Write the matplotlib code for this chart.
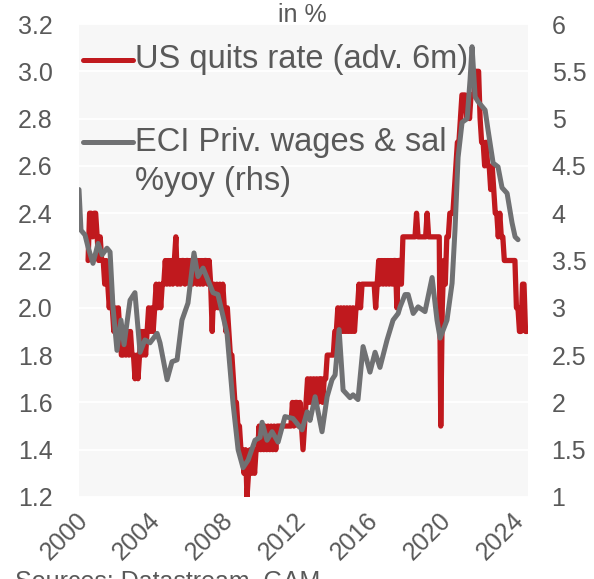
import numpy as np
import matplotlib
matplotlib.use("Agg")
import matplotlib.pyplot as plt
import matplotlib.transforms as mtransforms

plt.rcParams['font.family'] = ['Liberation Sans', 'DejaVu Sans']

# US quits rate (advanced 6m), monthly, first value = Jul 2000
quits_start = 2000 + 6 / 12
quits = [
    2.2, 2.4, 2.4, 2.3, 2.4, 2.4,                                # 2000 H2
    2.3, 2.2, 2.3, 2.2, 2.2, 2.1, 2.2, 2.1, 2.0, 2.1, 2.0, 1.9,  # 2001
    2.0, 1.9, 2.0, 1.9, 1.8, 1.8, 1.9, 1.8, 1.9, 1.8, 1.9, 1.8,  # 2002
    1.8, 1.7, 1.8, 1.7, 1.8, 1.9, 1.8, 1.9, 1.8, 1.9, 2.0, 1.9,  # 2003
    2.0, 1.9, 2.0, 2.1, 2.0, 2.1, 2.0, 2.1, 2.1, 2.2, 2.1, 2.2,  # 2004
    2.1, 2.2, 2.1, 2.2, 2.3, 2.1, 2.2, 2.1, 2.2, 2.2, 2.1, 2.2,  # 2005
    2.2, 2.1, 2.2, 2.1, 2.2, 2.2, 2.1, 2.2, 2.1, 2.2, 2.1, 2.2,  # 2006
    2.2, 2.1, 2.2, 2.1, 1.9, 2.1, 2.0, 2.1, 2.0, 2.1, 2.0, 2.1,  # 2007
    2.0, 1.9, 2.0, 1.9, 1.8, 1.8, 1.7, 1.6, 1.6, 1.5, 1.5, 1.4,  # 2008
    1.4, 1.3, 1.4, 1.2, 1.3, 1.4, 1.3, 1.4, 1.3, 1.4, 1.4, 1.5,  # 2009
    1.4, 1.5, 1.4, 1.5, 1.4, 1.5, 1.4, 1.5, 1.4, 1.5, 1.4, 1.5,  # 2010
    1.5, 1.5, 1.5, 1.5, 1.5, 1.5, 1.5, 1.5, 1.5, 1.6, 1.5, 1.6,  # 2011
    1.6, 1.5, 1.6, 1.5, 1.4, 1.5, 1.6, 1.7, 1.6, 1.7, 1.6, 1.7,  # 2012
    1.6, 1.7, 1.6, 1.7, 1.7, 1.6, 1.7, 1.7, 1.8, 1.8, 1.8, 1.8,  # 2013
    1.8, 1.9, 1.9, 2.0, 1.9, 2.0, 1.9, 2.0, 1.9, 2.0, 1.9, 2.0,  # 2014
    1.9, 2.0, 1.9, 2.0, 2.0, 2.1, 2.0, 2.1, 2.1, 2.1, 2.1, 2.1,  # 2015
    2.1, 2.1, 2.1, 2.1, 2.0, 2.1, 2.2, 2.1, 2.2, 2.1, 2.2, 2.1,  # 2016
    2.2, 2.1, 2.2, 2.1, 2.2, 2.2, 2.0, 2.2, 2.2, 2.1, 2.3, 2.3,  # 2017
    2.3, 2.3, 2.3, 2.3, 2.3, 2.3, 2.3, 2.4, 2.3, 2.3, 2.3, 2.3,  # 2018
    2.3, 2.3, 2.4, 2.3, 2.3, 2.3, 2.3, 2.3, 2.3, 2.3, 2.3, 1.5,  # 2019
    2.0, 2.2, 2.1, 2.3, 2.3, 2.4, 2.4, 2.4, 2.5, 2.6, 2.7, 2.7,  # 2020
    2.8, 2.9, 2.9, 2.9, 2.8, 2.9, 2.8, 2.9, 2.9, 2.9, 3.0, 3.0,  # 2021
    3.0, 2.8, 2.7, 2.7, 2.6, 2.7, 2.6, 2.6, 2.5, 2.6, 2.5, 2.4,  # 2022
    2.4, 2.3, 2.4, 2.3, 2.3, 2.2, 2.2, 2.2, 2.2, 2.2, 2.2, 2.2,  # 2023
    2.2, 2.0, 2.0, 1.9, 1.9, 2.1, 2.1, 1.9, 1.9,                 # 2024
]

# ECI private wages & salaries %yoy (rhs)
eci_t = [2000.00, 2000.11, 2000.33, 2000.50, 2000.77, 2001.05, 2001.27, 2001.54,
         2001.71, 2001.87, 2002.09, 2002.31, 2002.48, 2002.81, 2003.08, 2003.36,
         2003.63, 2003.91, 2004.30, 2004.46, 2004.85, 2005.12, 2005.40, 2005.67,
         2006.00, 2006.33, 2006.55, 2006.83, 2007.38, 2007.65, 2008.15, 2008.48,
         2008.76, 2009.03, 2009.31, 2009.69, 2009.97, 2010.08, 2010.35, 2010.63,
         2010.96, 2011.34, 2011.78, 2012.28, 2012.56, 2012.72, 2013.00, 2013.38,
         2013.66, 2013.93, 2014.10, 2014.32, 2014.54, 2014.92, 2015.09, 2015.36,
         2015.64, 2016.02, 2016.30, 2016.57, 2016.96, 2017.29, 2017.57, 2017.68,
         2017.95, 2018.12, 2018.40, 2018.67, 2019.05, 2019.44, 2019.71, 2019.88,
         2020.26, 2020.54, 2020.70, 2020.87, 2021.09, 2021.37, 2021.53, 2021.64,
         2021.81, 2021.97, 2022.36, 2022.52, 2022.80, 2023.07, 2023.29, 2023.57,
         2023.84, 2024.01, 2024.17]
eci = [4.25, 3.82, 3.77, 3.64, 3.47, 3.68, 3.56, 3.63,
       3.59, 3.01, 2.55, 2.87, 2.61, 3.08, 3.16, 2.53,
       2.66, 2.63, 2.73, 2.63, 2.24, 2.43, 2.45, 2.87,
       3.05, 3.58, 3.33, 3.42, 3.16, 3.14, 2.73, 1.99,
       1.50, 1.31, 1.39, 1.60, 1.63, 1.79, 1.60, 1.69,
       1.58, 1.85, 1.83, 1.71, 1.90, 1.81, 2.06, 1.69,
       2.06, 2.24, 2.29, 2.77, 2.13, 2.05, 2.08, 2.03,
       2.59, 2.32, 2.53, 2.37, 2.66, 2.87, 2.94, 3.01,
       3.14, 3.14, 2.94, 3.01, 2.96, 3.32, 2.87, 2.68,
       2.87, 3.26, 3.82, 4.59, 4.96, 5.00, 5.41, 5.76,
       5.23, 5.18, 5.09, 4.88, 4.53, 4.49, 4.27, 4.21,
       3.90, 3.75, 3.72]

year_ticks = [2000, 2004, 2008, 2012, 2016, 2020, 2024]

red = '#c0191e'
grey = '#707173'
txt = '#595959'

fig = plt.figure(figsize=(5.94, 5.79), dpi=100)
ax = fig.add_axes([79 / 594, 82 / 579, 449 / 594, 473 / 579])
ax.set_facecolor('#f7f7f7')

t = quits_start + np.arange(len(quits)) / 12
ax.plot(t, quits, color=red, lw=3.8, solid_joinstyle='round',
        solid_capstyle='round', zorder=3)
ax.set_xlim(2000, 2024.72)
ax.set_ylim(1.2, 3.2)
ax.set_yticks(np.arange(1.2, 3.21, 0.2))
ax.set_yticklabels(['%.1f' % v for v in np.arange(1.2, 3.21, 0.2)])
ax.grid(axis='y', color='white', lw=1.4)
ax.set_axisbelow(True)
ax.set_xticks(year_ticks)
ax.set_xticklabels([str(y) for y in year_ticks], rotation=45, ha='right',
                   va='center', rotation_mode='anchor')
ax.tick_params(axis='x', length=0, pad=14, labelsize=18, labelcolor=txt)
ax.tick_params(axis='y', length=0, pad=19, labelsize=18, labelcolor=txt)
# nudge the year labels a little to the right, as in the original
shift = mtransforms.ScaledTranslation(5 / 100, 0, fig.dpi_scale_trans)
for lab in ax.get_xticklabels():
    lab.set_transform(lab.get_transform() + shift)

ax2 = ax.twinx()
ax2.plot(eci_t, eci, color=grey, lw=3.6, solid_joinstyle='round',
         solid_capstyle='round', zorder=3)
ax2.set_ylim(1, 6)
r_ticks = np.arange(1, 6.01, 0.5)
ax2.set_yticks(r_ticks)
ax2.set_yticklabels(['%g' % v for v in r_ticks])
ax2.tick_params(axis='y', length=0, pad=17, labelsize=18, labelcolor=txt)

for a in (ax, ax2):
    for s in a.spines.values():
        s.set_visible(False)

# legend drawn by hand, Excel style (handle on the first line)
ax.plot([0.009, 0.12], [0.924, 0.924], transform=ax.transAxes, color=red,
        lw=3.6, solid_capstyle='round', zorder=2)
ax.plot([0.009, 0.12], [0.750, 0.750], transform=ax.transAxes, color=grey,
        lw=3.6, solid_capstyle='round', zorder=2)
ax.text(0.125, 0.924, 'US quits rate (adv. 6m)', transform=ax.transAxes,
        fontsize=23.5, color=txt, va='center', ha='left', zorder=2)
ax.text(0.125, 0.750, 'ECI Priv. wages & sal', transform=ax.transAxes,
        fontsize=23.5, color=txt, va='center', ha='left', zorder=2)
ax.text(0.125, 0.666, '%yoy (rhs)', transform=ax.transAxes,
        fontsize=23.5, color=txt, va='center', ha='left', zorder=2)

fig.text(302 / 594, 1 - 15 / 579, 'in %', fontsize=18, color=txt,
         ha='center', va='center')
fig.text(15 / 594, 1 - 570 / 579, 'Sources: Datastream, GAM', fontsize=18,
         color=txt, ha='left', va='top')

fig.savefig('out.png', dpi=100)
